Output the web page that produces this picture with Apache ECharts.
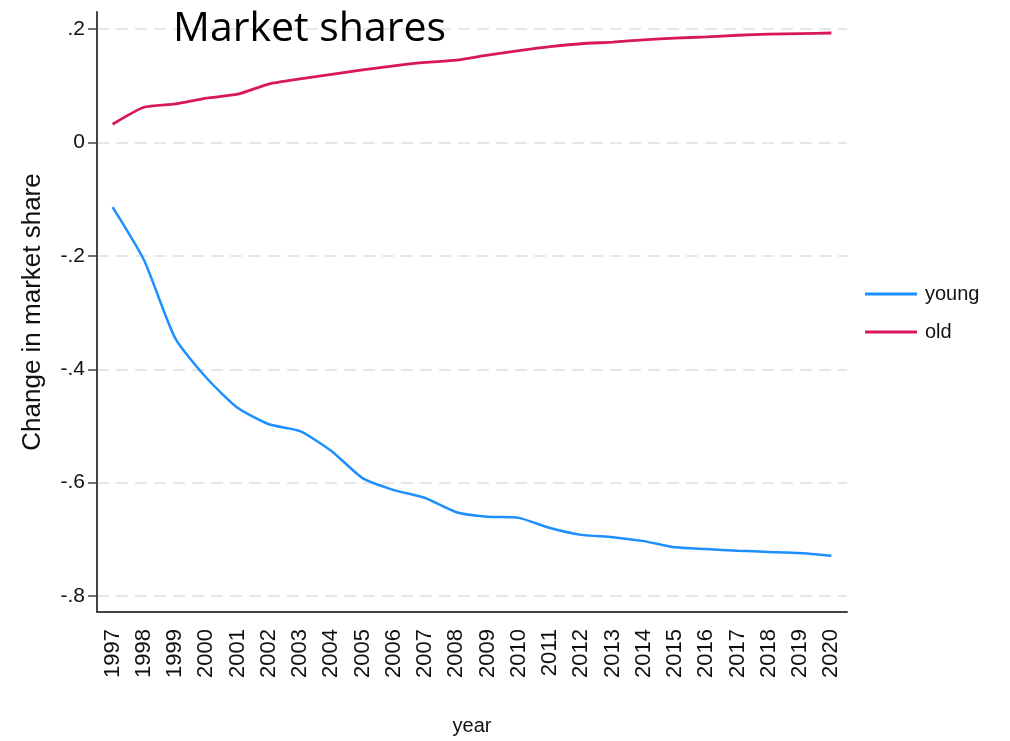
<!DOCTYPE html>
<html>
<head>
<meta charset="utf-8">
<script src="https://cdn.jsdelivr.net/npm/echarts@6/dist/echarts.min.js"></script>
<style>
  html, body { margin: 0; padding: 0; background: #fff; }
  #chart { width: 1010px; height: 741px; }
</style>
</head>
<body>
<div id="chart"></div>
<script>
// years on the x axis
const years = ["1997", "1998", "1999", "2000", "2001", "2002", "2003", "2004",
  "2005", "2006", "2007", "2008", "2009", "2010", "2011", "2012",
  "2013", "2014", "2015", "2016", "2017", "2018", "2019", "2020"];
// change in market share
const young = [-0.114, -0.207, -0.345, -0.415, -0.468, -0.497, -0.509, -0.544,
  -0.592, -0.613, -0.627, -0.652, -0.660, -0.662, -0.680, -0.692,
  -0.696, -0.703, -0.714, -0.717, -0.720, -0.722, -0.724, -0.729];
const old = [0.032, 0.062, 0.068, 0.078, 0.085, 0.103, 0.112, 0.120,
  0.128, 0.135, 0.141, 0.145, 0.154, 0.162, 0.169, 0.174,
  0.177, 0.181, 0.184, 0.186, 0.189, 0.191, 0.192, 0.193];
const yTicks = [-0.8, -0.6, -0.4, -0.2, 0, 0.2];
const yTickLabels = ["-.8", "-.6", "-.4", "-.2", "0", ".2"];

const chart = echarts.init(document.getElementById("chart"));
const font = "Liberation Sans";

const option = {
  backgroundColor: "#ffffff",
  animation: false,
  title: {
    text: "Market shares",
    left: 168,
    top: 4,
    textStyle: { fontFamily: "Open Sans", fontSize: 41, fontWeight: "normal", color: "#000" }
  },
  legend: {
    orient: "vertical",
    left: 860,
    top: 279,
    itemWidth: 52,
    itemHeight: 3,
    itemGap: 18,
    icon: "rect",
    textStyle: { fontFamily: font, fontSize: 20, color: "#111", padding: [0, 0, 0, 3] },
    data: ["young", "old"]
  },
  grid: { left: 97, right: 163, top: 12, bottom: 129 },
  xAxis: {
    type: "category",
    data: years,
    boundaryGap: true,
    name: "year",
    nameLocation: "middle",
    nameGap: 104,
    nameTextStyle: { fontFamily: font, fontSize: 20, color: "#111" },
    axisLine: { onZero: false, lineStyle: { color: "#444", width: 2 } },
    axisTick: { alignWithLabel: true, length: 10, lineStyle: { color: "#444", width: 1.5 } },
    axisLabel: { rotate: 90, interval: 0, margin: 17, fontFamily: font, fontSize: 22, color: "#111" },
    splitLine: { show: false }
  },
  yAxis: {
    type: "value",
    min: -0.828,
    max: 0.23,
    name: "Change in market share",
    nameLocation: "middle",
    nameGap: 51,
    nameTextStyle: { fontFamily: font, fontSize: 26, color: "#111" },
    axisLine: { show: true, lineStyle: { color: "#444", width: 2 } },
    axisTick: { show: true, length: 9, customValues: yTicks, lineStyle: { color: "#444", width: 1.5 } },
    axisLabel: {
      customValues: yTicks,
      margin: 12,
      fontFamily: font,
      fontSize: 21,
      color: "#111",
      formatter: function (v) {
        const i = yTicks.findIndex(t => Math.abs(t - v) < 1e-6);
        return i >= 0 ? yTickLabels[i] : "";
      }
    },
    splitLine: { show: true, customValues: yTicks, lineStyle: { color: "#e6e6e6", width: 2, type: [12, 7] } }
  },
  series: [
    {
      name: "young",
      type: "line",
      data: young,
      smooth: 0.2,
      showSymbol: false,
      color: "#1e8fff",
      lineStyle: { width: 2.5 }
    },
    {
      name: "old",
      type: "line",
      data: old,
      smooth: 0.2,
      showSymbol: false,
      color: "#d8175e",
      lineStyle: { width: 2.8 }
    }
  ]
};
chart.setOption(option);
</script>
</body>
</html>
